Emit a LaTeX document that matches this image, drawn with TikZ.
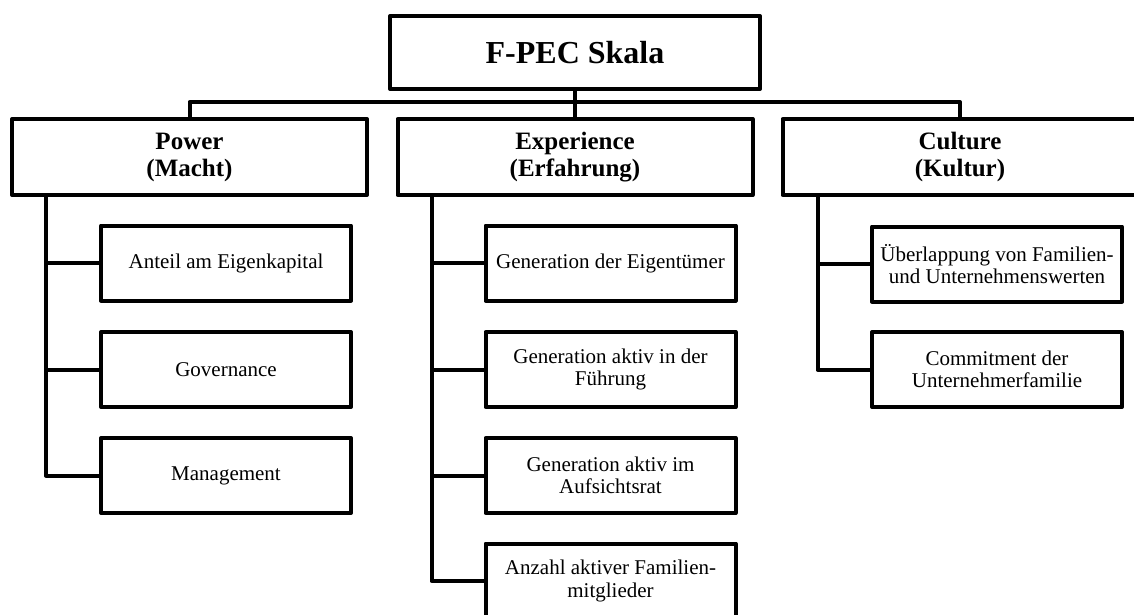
\documentclass[tikz,border=0pt]{standalone}
\usepackage{fontspec}
\setmainfont{Liberation Serif}
\begin{document}
\begin{tikzpicture}[x=1pt,y=-1pt,
  line width=4pt, line join=round,
  box/.style={draw, inner sep=0pt, align=center, fill=white},
  rootbox/.style={box, minimum width=370pt, minimum height=73pt,
    font=\fontsize{32}{34}\selectfont\bfseries},
  dimbox/.style={box, minimum width=355pt, minimum height=76pt,
    font=\fontsize{25}{27}\selectfont\bfseries},
  itembox/.style={box, minimum width=250pt, minimum height=75pt,
    font=\fontsize{21}{22.5}\selectfont},
  link/.style={draw}
]
\useasboundingbox (0,0) rectangle (1134,615);
\clip (0,0) rectangle (1134,615);

% root and the three dimensions
\node[rootbox] (root) at (575,52.5) {F-PEC Skala};
\node[dimbox] (pow) at (189.5,157) {Power\\(Macht)};
\node[dimbox] (exp) at (575,157) {Experience\\(Erfahrung)};
\node[dimbox] (cul) at (960,157) {Culture\\(Kultur)};

% items of Power
\node[itembox] (p1) at (226,263) {Anteil am Eigenkapital};
\node[itembox] (p2) at (226,369.5) {Governance};
\node[itembox] (p3) at (226,475.5) {Management};

% items of Experience
\node[itembox] (e1) at (610.5,263) {Generation der Eigentümer};
\node[itembox] (e2) at (610.5,369.5) {Generation aktiv in der\\Führung};
\node[itembox] (e3) at (610.5,475.5) {Generation aktiv im\\Aufsichtsrat};
\node[itembox] (e4) at (610.5,581) {Anzahl aktiver Familien-\\mitglieder};

% items of Culture
\node[itembox] (c1) at (997,264) {Überlappung von Familien-\\und Unternehmenswerten};
\node[itembox] (c2) at (997,369.5) {Commitment der\\Unternehmerfamilie};

% root to dimensions
\draw[link] (root.south) -- (exp.north);
\coordinate (busL) at ([yshift=15pt]pow.north);
\draw[link] (pow.north) -- (busL) -| (cul.north);

% trunks with branches to the items
\coordinate (ptr) at ([xshift=36pt]pow.south west);
\draw[link] (ptr) |- (p3.west);
\draw[link] (ptr |- p1.west) -- (p1.west);
\draw[link] (ptr |- p2.west) -- (p2.west);

\coordinate (etr) at ([xshift=36pt]exp.south west);
\draw[link] (etr) |- (e4.west);
\draw[link] (etr |- e1.west) -- (e1.west);
\draw[link] (etr |- e2.west) -- (e2.west);
\draw[link] (etr |- e3.west) -- (e3.west);

\coordinate (ctr) at ([xshift=37pt]cul.south west);
\draw[link] (ctr) |- (c2.west);
\draw[link] (ctr |- c1.west) -- (c1.west);
\end{tikzpicture}
\end{document}
